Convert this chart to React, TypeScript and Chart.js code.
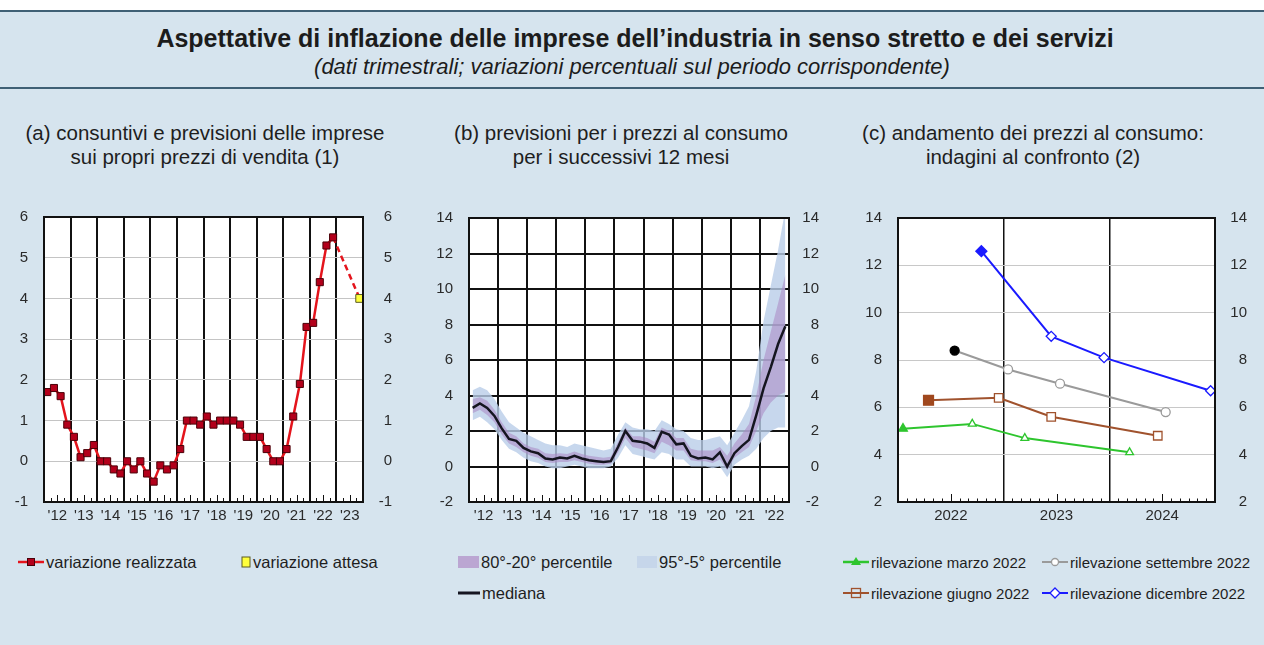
import React, { useEffect, useRef } from "react";
import { Chart, registerables } from "chart.js";

Chart.register(...registerables);

const FONT = '"Liberation Sans", Arial, Helvetica, sans-serif';
const BG = "#d6e4ee";
const TICK_COLOR = "#2a2a2a";

// ---------- Panel (a): realized and expected selling-price changes (quarterly) ----------
const yearsA = [2012, 2013, 2014, 2015, 2016, 2017, 2018, 2019, 2020, 2021, 2022, 2023];
const realized = [
  1.7, 1.8, 1.6, 0.9,
  0.6, 0.1, 0.2, 0.4,
  0.0, 0.0, -0.2, -0.3,
  0.0, -0.2, 0.0, -0.3,
  -0.5, -0.1, -0.2, -0.1,
  0.3, 1.0, 1.0, 0.9,
  1.1, 0.9, 1.0, 1.0,
  1.0, 0.9, 0.6, 0.6,
  0.6, 0.3, 0.0, 0.0,
  0.3, 1.1, 1.9, 3.3,
  3.4, 4.4, 5.3, 5.5,
];
const expectedQuarters = ["2022Q4", "2023Q4"];
const expectedValues = [5.5, 4.0];
const yTicksA = { min: -1, max: 6, step: 1 };

// ---------- Panel (b): consumer-price expectations 12 months ahead ----------
const yearsB = [2012, 2013, 2014, 2015, 2016, 2017, 2018, 2019, 2020, 2021, 2022];
const median = [
  3.3, 3.55, 3.3, 2.85,
  2.15, 1.55, 1.45, 1.05,
  0.85, 0.75, 0.45, 0.4,
  0.5, 0.45, 0.6, 0.45,
  0.35, 0.3, 0.25, 0.3,
  1.1, 2.0, 1.45, 1.4,
  1.3, 1.05, 1.95, 1.8,
  1.25, 1.3, 0.6, 0.45,
  0.5, 0.4, 0.8, 0.0,
  0.75, 1.15, 1.5, 2.9,
  4.4, 5.6, 6.9, 7.9,
];
const p95 = [
  4.3, 4.5, 4.3, 3.8,
  3.1, 2.5, 2.2, 1.9,
  1.7, 1.5, 1.3, 1.2,
  1.2, 1.1, 1.3, 1.2,
  1.1, 1.0, 0.9, 1.0,
  1.8, 2.5, 2.2, 2.1,
  2.1, 2.0, 2.6, 2.4,
  2.1, 2.0, 1.6, 1.5,
  1.5, 1.6, 1.7, 1.2,
  1.9, 2.6, 3.4, 5.4,
  8.2, 10.2, 12.2, 14.5,
];
const p80 = [
  3.8, 3.9, 3.7, 3.2,
  2.5, 1.9, 1.7, 1.3,
  1.1, 1.0, 0.75, 0.7,
  0.75, 0.7, 0.85, 0.7,
  0.6, 0.55, 0.5, 0.55,
  1.4, 2.2, 1.7, 1.7,
  1.6, 1.4, 2.2, 2.0,
  1.6, 1.6, 1.0, 0.9,
  0.9, 0.9, 1.1, 0.6,
  1.3, 1.8, 2.4, 4.0,
  6.0, 7.6, 9.2, 10.8,
];
const p20 = [
  3.0, 3.2, 2.9, 2.5,
  1.8, 1.3, 1.1, 0.8,
  0.6, 0.5, 0.25, 0.2,
  0.25, 0.25, 0.35, 0.25,
  0.15, 0.1, 0.1, 0.15,
  0.8, 1.6, 1.1, 1.0,
  0.9, 0.75, 1.4, 1.2,
  0.9, 0.9, 0.35, 0.3,
  0.3, 0.2, 0.4, -0.2,
  0.5, 0.8, 1.1, 2.0,
  3.0, 3.6, 4.0, 4.2,
];
const p5 = [
  2.6, 2.8, 2.5, 2.1,
  1.5, 1.0, 0.8, 0.5,
  0.3, 0.2, 0.0, -0.1,
  -0.1, 0.0, 0.1, 0.0,
  -0.1, -0.1, -0.1, 0.0,
  0.5, 1.2, 0.7, 0.6,
  0.5, 0.4, 0.8, 0.7,
  0.4, 0.4, 0.0, 0.0,
  0.0, -0.1, 0.0, -0.6,
  0.1, 0.4, 0.6, 1.0,
  1.6, 2.0, 2.2, 2.2,
];
const yTicksB = { min: -2, max: 14, step: 2 };

// ---------- Panel (c): surveys compared ----------
const yearsC = [2022, 2023, 2024];
const marzoDates = ["2022-01-18", "2022-09-14", "2023-03-13", "2024-03-10"];
const marzoValues = [5.1, 5.3, 4.7, 4.1];
const giugnoDates = ["2022-04-15", "2022-12-14", "2023-06-13", "2024-06-16"];
const giugnoValues = [6.3, 6.4, 5.6, 4.8];
const settembreDates = ["2022-07-14", "2023-01-16", "2023-07-13", "2024-07-13"];
const settembreValues = [8.4, 7.6, 7.0, 5.8];
const dicembreDates = ["2022-10-15", "2023-06-13", "2023-12-13", "2024-12-16"];
const dicembreValues = [12.6, 9.0, 8.1, 6.7];
const yTicksC = { min: 2, max: 14, step: 2 };

// ---------- helpers ----------
const quarterLabels = (years: number[]) =>
  years.flatMap((y) => [1, 2, 3, 4].map((q) => `${y}Q${q}`));

const quarterPos = (label: string, startYear: number) => {
  const [y, q] = label.split("Q").map(Number);
  return (y - startYear) * 4 + (q - 0.5);
};

const monthPos = (date: string, startYear: number) => {
  const [y, m, d] = date.split("-").map(Number);
  return (y - startYear) * 12 + (m - 1) + (d - 1) / 30;
};

const tickFont = { family: FONT, size: 15 };

function decor(total: number, period: number, majorAt: number, minorLen: number, majorLen: number) {
  return {
    id: "decor",
    beforeDraw(chart: any) {
      const { ctx, chartArea: a } = chart;
      ctx.save();
      ctx.fillStyle = "#ffffff";
      ctx.fillRect(a.left, a.top, a.right - a.left, a.bottom - a.top);
      ctx.restore();
    },
    afterDraw(chart: any) {
      const { ctx, chartArea: a, scales } = chart;
      const xs = scales.x;
      ctx.save();
      ctx.strokeStyle = "#111";
      ctx.lineWidth = 1;
      for (let i = 1; i < total; i++) {
        if (i % period === 0) continue;
        const px = Math.round(xs.getPixelForValue(i)) + 0.5;
        const len = i % period === majorAt ? majorLen : minorLen;
        ctx.beginPath();
        ctx.moveTo(px, a.bottom);
        ctx.lineTo(px, a.bottom - len);
        ctx.stroke();
      }
      ctx.lineWidth = 2;
      ctx.strokeRect(a.left, a.top, a.right - a.left, a.bottom - a.top);
      ctx.restore();
    },
  };
}

function yAxes(t: { min: number; max: number; step: number }, leftW: number, rightW: number, gridColor: (v: number) => string, gridWidth: number) {
  return {
    y: {
      position: "left",
      min: t.min,
      max: t.max,
      ticks: { stepSize: t.step, font: tickFont, color: TICK_COLOR, padding: 16 },
      grid: {
        drawTicks: false,
        lineWidth: gridWidth,
        color: (c: any) => gridColor(c.tick ? c.tick.value : NaN),
      },
      border: { display: false },
      afterFit: (s: any) => {
        s.width = leftW;
        s.paddingTop = 0;
        s.paddingBottom = 0;
      },
    },
    y2: {
      position: "right",
      min: t.min,
      max: t.max,
      ticks: { stepSize: t.step, font: tickFont, color: TICK_COLOR, padding: 0, crossAlign: "far" },
      grid: { display: false, drawTicks: false },
      border: { display: false },
      afterFit: (s: any) => {
        s.width = rightW;
        s.paddingTop = 0;
        s.paddingBottom = 0;
      },
    },
  };
}

function xAxis(total: number, period: number, labelAt: number, label: (i: number) => string, lineColor: string, lineWidth: number, height: number) {
  return {
    type: "linear",
    min: 0,
    max: total,
    ticks: {
      stepSize: 1,
      autoSkip: false,
      maxRotation: 0,
      minRotation: 0,
      font: tickFont,
      color: TICK_COLOR,
      padding: 5,
      callback: (v: number) => {
        const i = Math.round(v);
        return i % period === labelAt ? label(Math.floor(i / period)) : "";
      },
    },
    grid: {
      drawTicks: false,
      lineWidth: lineWidth,
      color: (c: any) => {
        const i = c.tick ? Math.round(c.tick.value) : -1;
        return i > 0 && i < total && i % period === 0 ? lineColor : "rgba(0,0,0,0)";
      },
    },
    border: { display: false },
    afterFit: (s: any) => {
      s.height = height;
      s.paddingLeft = 0;
      s.paddingRight = 0;
    },
  };
}

const baseOptions = (padTop: number, padRight: number) => ({
  responsive: false,
  animation: false,
  layout: { padding: { top: padTop, left: 0, right: padRight, bottom: 0 } },
  plugins: { legend: { display: false }, tooltip: { enabled: false } },
  elements: { line: { tension: 0 } },
});

function PanelA() {
  const ref = useRef<HTMLCanvasElement>(null);
  useEffect(() => {
    const qs = quarterLabels(yearsA.slice(0, 11));
    const realizedPts = realized.map((v, i) => ({ x: quarterPos(qs[i], yearsA[0]), y: v }));
    const expectedPts = expectedQuarters.map((q, i) => ({ x: quarterPos(q, yearsA[0]), y: expectedValues[i] }));
    const total = yearsA.length * 4;
    const chart = new Chart(ref.current!, {
      type: "line",
      data: {
        datasets: [
          {
            label: "variazione realizzata",
            data: realizedPts,
            borderColor: "#e4141c",
            borderWidth: 2.5,
            pointStyle: "rect",
            pointRadius: 5,
            pointBackgroundColor: "#b3001b",
            pointBorderColor: "#4a0008",
            pointBorderWidth: 1,
          },
          {
            label: "variazione attesa",
            data: expectedPts,
            borderColor: "#e4141c",
            borderWidth: 2.5,
            borderDash: [6, 4],
            pointStyle: "rect",
            pointRadius: [0, 5.5],
            pointBackgroundColor: "#ffff3c",
            pointBorderColor: "#5a5a20",
            pointBorderWidth: 1,
          },
        ],
      },
      options: {
        ...baseOptions(17, 28),
        scales: {
          x: xAxis(total, 4, 2, (k) => "'" + String(yearsA[k]).slice(2), "#111", 2, 28),
          ...yAxes(yTicksA, 44, 29, (v) => (v > yTicksA.min && v < yTicksA.max ? "#c4c4c4" : "rgba(0,0,0,0)"), 1),
        },
      } as any,
      plugins: [decor(total, 4, 2, 4, 7)],
    });
    return () => chart.destroy();
  }, []);
  return <canvas ref={ref} width={420} height={330} style={{ position: "absolute", left: 0, top: 200 }} />;
}

function PanelB() {
  const ref = useRef<HTMLCanvasElement>(null);
  useEffect(() => {
    const qs = quarterLabels(yearsB);
    const pts = (arr: number[]) => arr.map((v, i) => ({ x: quarterPos(qs[i], yearsB[0]), y: v }));
    const total = yearsB.length * 4;
    const band = { borderWidth: 0, pointRadius: 0 };
    const chart = new Chart(ref.current!, {
      type: "line",
      data: {
        datasets: [
          { label: "mediana", data: pts(median), borderColor: "#151520", borderWidth: 2.5, pointRadius: 0 },
          { label: "80", data: pts(p80), ...band, fill: false },
          { label: "80°-20° percentile", data: pts(p20), ...band, fill: "-1", backgroundColor: "rgba(170,135,195,0.55)" },
          { label: "95", data: pts(p95), ...band, fill: false },
          { label: "95°-5° percentile", data: pts(p5), ...band, fill: "-1", backgroundColor: "rgba(185,205,232,0.8)" },
        ],
      },
      options: {
        ...baseOptions(18, 21),
        scales: {
          x: { ...xAxis(total, 4, 2, (k) => "'" + String(yearsB[k]).slice(2), "#111", 2, 28), z: 1 },
          ...yAxes(yTicksB, 49, 30, (v) => (v > yTicksB.min && v < yTicksB.max ? "#111" : "rgba(0,0,0,0)"), 2),
        },
      } as any,
      plugins: [decor(total, 4, 2, 4, 7)],
    });
    (chart.options.scales as any).y.z = 1;
    chart.update();
    return () => chart.destroy();
  }, []);
  return <canvas ref={ref} width={420} height={330} style={{ position: "absolute", left: 420, top: 200 }} />;
}

function PanelC() {
  const ref = useRef<HTMLCanvasElement>(null);
  useEffect(() => {
    const pts = (dates: string[], vals: number[]) => dates.map((d, i) => ({ x: monthPos(d, yearsC[0]), y: vals[i] }));
    const total = yearsC.length * 12;
    const series = (label: string, dates: string[], vals: number[], color: string, style: string, firstFill: string, r: number, r0: number) => ({
      label,
      data: pts(dates, vals),
      borderColor: color,
      borderWidth: 2,
      pointStyle: style,
      pointRadius: [r0, r, r, r],
      pointBackgroundColor: [firstFill, "#ffffff", "#ffffff", "#ffffff"],
      pointBorderColor: [firstFill, color, color, color],
      pointBorderWidth: 1.3,
    });
    const chart = new Chart(ref.current!, {
      type: "line",
      data: {
        datasets: [
          series("rilevazione dicembre 2022", dicembreDates, dicembreValues, "#1a1aff", "rectRot", "#1a1aff", 5, 5.5),
          series("rilevazione settembre 2022", settembreDates, settembreValues, "#9a9a9a", "circle", "#000000", 4.5, 4.5),
          series("rilevazione giugno 2022", giugnoDates, giugnoValues, "#a0522d", "rect", "#a0481e", 6, 7),
          series("rilevazione marzo 2022", marzoDates, marzoValues, "#2ec52e", "triangle", "#2ec52e", 4.5, 5),
        ],
      },
      options: {
        ...baseOptions(18, 17),
        scales: {
          x: xAxis(total, 12, 6, (k) => String(yearsC[k]), "#111", 1.5, 28),
          ...yAxes(yTicksC, 58, 32, (v) => (v > yTicksC.min && v < yTicksC.max ? "#c8c8c8" : "rgba(0,0,0,0)"), 1),
        },
      } as any,
      plugins: [decor(total, 12, 6, 3.5, 8)],
    });
    return () => chart.destroy();
  }, []);
  return <canvas ref={ref} width={424} height={330} style={{ position: "absolute", left: 840, top: 200 }} />;
}

const abs = (left: number, top: number, extra: React.CSSProperties = {}): React.CSSProperties => ({
  position: "absolute",
  left,
  top,
  ...extra,
});

function Swatch({ kind }: { kind: string }) {
  const w = 26;
  const h = 16;
  const c = h / 2;
  if (kind === "red")
    return (
      <svg width={w} height={h}>
        <line x1={0} y1={c} x2={w} y2={c} stroke="#e4141c" strokeWidth={2.5} />
        <rect x={w / 2 - 3.5} y={c - 3.5} width={7} height={7} fill="#b3001b" stroke="#4a0008" />
      </svg>
    );
  if (kind === "yellow")
    return (
      <svg width={10} height={h}>
        <rect x={1} y={c - 5} width={8} height={10} fill="#ffff3c" stroke="#5a5a20" />
      </svg>
    );
  if (kind === "purple")
    return (
      <svg width={21} height={h}>
        <rect x={0} y={c - 6} width={21} height={12} fill="#bba6d2" />
      </svg>
    );
  if (kind === "blueband")
    return (
      <svg width={20} height={h}>
        <rect x={0} y={c - 6} width={20} height={12} fill="#c6d6ea" />
      </svg>
    );
  if (kind === "median")
    return (
      <svg width={22} height={h}>
        <line x1={0} y1={c} x2={22} y2={c} stroke="#151520" strokeWidth={3} />
      </svg>
    );
  const m = w / 2;
  if (kind === "green")
    return (
      <svg width={w} height={h}>
        <line x1={0} y1={c} x2={w} y2={c} stroke="#2ec52e" strokeWidth={2.5} />
        <polygon points={`${m},${c - 5} ${m + 5},${c + 3} ${m - 5},${c + 3}`} fill="#2ec52e" />
      </svg>
    );
  if (kind === "brown")
    return (
      <svg width={w} height={h}>
        <line x1={0} y1={c} x2={w} y2={c} stroke="#a0522d" strokeWidth={2} />
        <rect x={m - 4.5} y={c - 4.5} width={9} height={9} fill="none" stroke="#a0522d" strokeWidth={1.3} />
      </svg>
    );
  if (kind === "gray")
    return (
      <svg width={w} height={h}>
        <line x1={0} y1={c} x2={w} y2={c} stroke="#9a9a9a" strokeWidth={2} />
        <circle cx={m} cy={c} r={3.5} fill="#ffffff" stroke="#9a9a9a" strokeWidth={1.3} />
      </svg>
    );
  return (
    <svg width={w} height={h}>
      <line x1={0} y1={c} x2={w} y2={c} stroke="#1a1aff" strokeWidth={2} />
      <polygon points={`${m},${c - 5} ${m + 5},${c} ${m},${c + 5} ${m - 5},${c}`} fill="#ffffff" stroke="#1a1aff" strokeWidth={1.3} />
    </svg>
  );
}

function LegendItem({ left, top, kind, text, size }: { left: number; top: number; kind: string; text: string; size: number }) {
  return (
    <div style={abs(left, top, { display: "flex", alignItems: "center", height: 20, whiteSpace: "nowrap", fontSize: size, color: "#1e1e1e" })}>
      <Swatch kind={kind} />
      <span style={{ marginLeft: 2 }}>{text}</span>
    </div>
  );
}

const panelTitle: React.CSSProperties = {
  textAlign: "center",
  fontSize: 20.5,
  lineHeight: "24px",
  color: "#1e1e1e",
  width: 440,
  whiteSpace: "nowrap",
};

export default function App() {
  return (
    <div style={{ position: "absolute", left: 0, top: 0, width: 1264, height: 645, background: BG, overflow: "hidden", fontFamily: FONT }}>
      <div style={abs(0, 0, { width: 1264, height: 10, background: "#ffffff" })} />
      <div style={abs(0, 10, { width: 1264, height: 2, background: "#3f6075" })} />
      <div style={abs(0, 87, { width: 1264, height: 2, background: "#3f6075" })} />
      <div style={abs(0, 23, { width: 1270, textAlign: "center", fontSize: 25, fontWeight: "bold", lineHeight: "30px", color: "#1c1c1c", whiteSpace: "nowrap" })}>
        Aspettative di inflazione delle imprese dell’industria in senso stretto e dei servizi
      </div>
      <div style={abs(0, 54, { width: 1264, textAlign: "center", fontSize: 22, fontStyle: "italic", lineHeight: "26px", color: "#1c1c1c", whiteSpace: "nowrap" })}>
        (dati trimestrali; variazioni percentuali sul periodo corrispondente)
      </div>

      <div style={abs(-15, 121, panelTitle)}>
        (a) consuntivi e previsioni delle imprese
        <br />
        sui propri prezzi di vendita (1)
      </div>
      <div style={abs(401, 121, panelTitle)}>
        (b) previsioni per i prezzi al consumo
        <br />
        per i successivi 12 mesi
      </div>
      <div style={abs(813, 121, panelTitle)}>
        (c) andamento dei prezzi al consumo:
        <br />
        indagini al confronto (2)
      </div>

      <PanelA />
      <PanelB />
      <PanelC />

      <LegendItem left={18} top={552} kind="red" text="variazione realizzata" size={16.5} />
      <LegendItem left={241} top={552} kind="yellow" text="variazione attesa" size={16.5} />
      <LegendItem left={458} top={552} kind="purple" text="80°-20° percentile" size={16.5} />
      <LegendItem left={637} top={552} kind="blueband" text="95°-5° percentile" size={16.5} />
      <LegendItem left={458} top={583} kind="median" text="mediana" size={16.5} />

      <LegendItem left={843} top={552} kind="green" text="rilevazione marzo 2022" size={15} />
      <LegendItem left={1042} top={552} kind="gray" text="rilevazione settembre 2022" size={15} />
      <LegendItem left={843} top={583} kind="brown" text="rilevazione giugno 2022" size={15} />
      <LegendItem left={1042} top={583} kind="blue" text="rilevazione dicembre 2022" size={15} />
    </div>
  );
}
